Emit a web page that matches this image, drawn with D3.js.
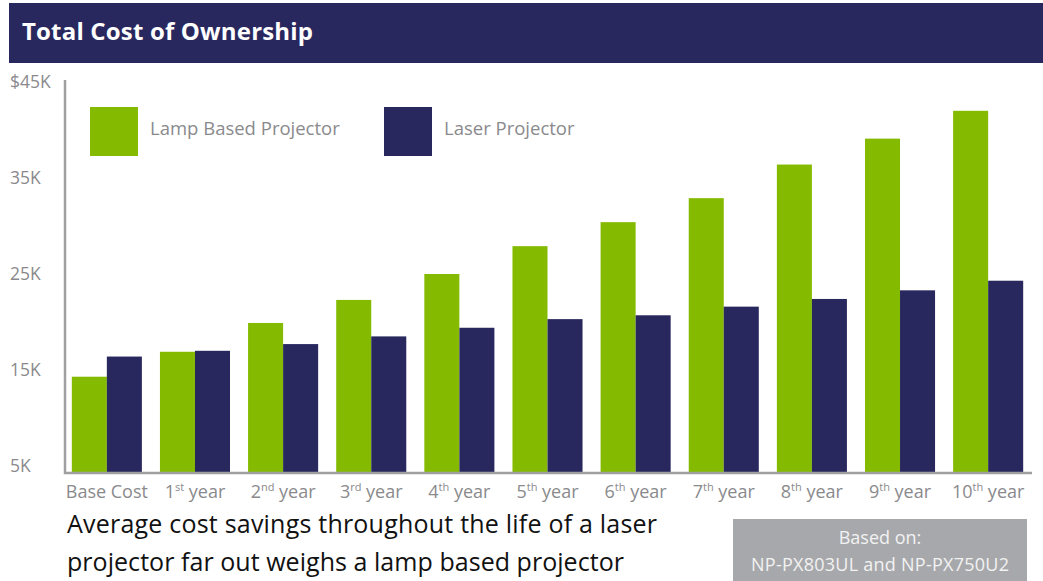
<!DOCTYPE html>
<html>
<head>
<meta charset="utf-8">
<script src="https://cdn.jsdelivr.net/npm/d3@7"></script>
<style>
  body { margin: 0; background: #fff; }
  svg { display: block; font-family: "Open Sans", "Noto Sans", sans-serif; }
</style>
</head>
<body>
<div id="chart"></div>
<script>
// data (thousands of dollars)
var categories = ["Base Cost", "1|st", "2|nd", "3|rd", "4|th", "5|th", "6|th", "7|th", "8|th", "9|th", "10|th"];
var lampValues = [14.3, 16.9, 19.9, 22.3, 25.0, 27.9, 30.4, 32.9, 36.4, 39.1, 42.0];
var laserValues = [16.4, 17.0, 17.7, 18.5, 19.4, 20.3, 20.7, 21.6, 22.4, 23.3, 24.3];
var seriesNames = ["Lamp Based Projector", "Laser Projector"];
var tickValues = [5, 15, 25, 35, 45];
var tickLabels = ["5K", "15K", "25K", "35K", "$45K"];

var W = 1043, H = 581;
var colors = { lamp: "#84bb00", laser: "#29285e", axis: "#a0a0a3", label: "#8a8a8d", box: "#a7a8ab" };
var baseY = 473;

var svg = d3.select("#chart").append("svg")
    .attr("width", W)
    .attr("height", H);

// header bar
svg.append("rect")
    .attr("x", 9).attr("y", 3)
    .attr("width", W - 9).attr("height", 60)
    .attr("fill", colors.laser);
svg.append("text")
    .attr("x", 22).attr("y", 40)
    .attr("fill", "#fff")
    .attr("font-size", 24)
    .attr("font-weight", "bold")
    .attr("textLength", 291)
    .text("Total Cost of Ownership");

var y = d3.scaleLinear().domain([5, 45]).range([466, 82]);
var x = d3.scaleBand().domain(d3.range(categories.length))
    .range([63, 1032]).paddingInner(0.205).paddingOuter(0.1);
var xs = d3.scaleBand().domain([0, 1]).range([0, x.bandwidth()]);

// y tick labels
svg.append("g").selectAll("text")
    .data(tickValues)
    .join("text")
    .attr("x", 10)
    .attr("y", function (d) { return y(d); })
    .attr("dy", "0.35em")
    .attr("fill", colors.label)
    .attr("font-size", 17.5)
    .text(function (d, i) { return tickLabels[i]; });

// bars
var rows = categories.map(function (c, i) { return [lampValues[i], laserValues[i]]; });
var groups = svg.append("g").selectAll("g")
    .data(rows)
    .join("g")
    .attr("transform", function (d, i) { return "translate(" + x(i) + ",0)"; });
groups.selectAll("rect")
    .data(function (d) { return d; })
    .join("rect")
    .attr("x", function (d, j) { return xs(j); })
    .attr("y", function (d) { return y(d); })
    .attr("width", xs.bandwidth())
    .attr("height", function (d) { return baseY - y(d); })
    .attr("fill", function (d, j) { return j == 0 ? colors.lamp : colors.laser; });

// axes lines
svg.append("path")
    .attr("d", "M65,80V" + baseY + "H1032")
    .attr("fill", "none")
    .attr("stroke", colors.axis)
    .attr("stroke-width", 2.5);

// x labels
var xl = svg.append("g").selectAll("text")
    .data(categories)
    .join("text")
    .attr("x", function (d, i) { return x(i) + x.bandwidth() / 2; })
    .attr("y", 498)
    .attr("text-anchor", "middle")
    .attr("fill", colors.label)
    .attr("font-size", 18);
xl.each(function (d) {
    var t = d3.select(this);
    var parts = d.split("|");
    if (parts.length == 1) { t.text(d); return; }
    t.append("tspan").text(parts[0]);
    t.append("tspan").attr("font-size", 11).attr("dy", -7).text(parts[1]);
    t.append("tspan").attr("dy", 7).text(" year");
});

// legend
var legend = svg.append("g").selectAll("g")
    .data(seriesNames)
    .join("g")
    .attr("transform", function (d, i) { return "translate(" + (90 + i * 294) + ",107)"; });
legend.append("rect")
    .attr("width", 48).attr("height", 49)
    .attr("fill", function (d, i) { return i == 0 ? colors.lamp : colors.laser; });
legend.append("text")
    .attr("x", 60).attr("y", 22)
    .attr("dy", "0.35em")
    .attr("fill", colors.label)
    .attr("font-size", 18.5)
    .text(function (d) { return d; });

// caption
var cap = svg.append("text")
    .attr("x", 67).attr("y", 533)
    .attr("fill", "#111")
    .attr("font-size", 25);
cap.append("tspan").attr("x", 67).attr("textLength", 590).text("Average cost savings throughout the life of a laser");
cap.append("tspan").attr("x", 67).attr("dy", 38).attr("textLength", 557).text("projector far out weighs a lamp based projector");

// note box
svg.append("rect")
    .attr("x", 733).attr("y", 519)
    .attr("width", 294).attr("height", 62)
    .attr("fill", colors.box);
var note = svg.append("text")
    .attr("x", 880).attr("y", 544)
    .attr("text-anchor", "middle")
    .attr("fill", "#f2f2f2")
    .attr("font-size", 18);
note.append("tspan").attr("x", 880).text("Based on:");
note.append("tspan").attr("x", 880).attr("dy", 27).attr("textLength", 258).text("NP-PX803UL and NP-PX750U2");
</script>
</body>
</html>
